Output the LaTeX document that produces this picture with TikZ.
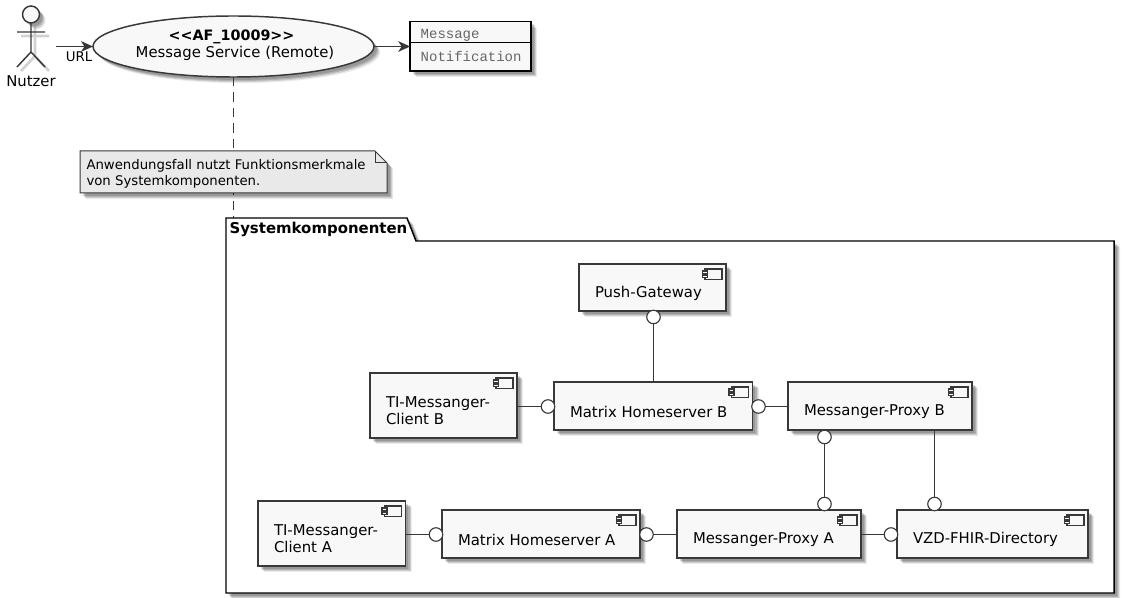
\documentclass[tikz,border=0pt]{standalone}
\usepackage{fontspec}
\setmainfont{DejaVu Sans}
\setmonofont{Liberation Mono}
\usetikzlibrary{shapes.geometric,shadows,arrows.meta,calc}
\definecolor{ln}{HTML}{383838}
\definecolor{bx}{HTML}{F8F8F8}
\definecolor{nt}{HTML}{E9E9E9}
\definecolor{mono}{HTML}{666666}
\newcommand{\pxfs}{\fontsize{11.15pt}{12.9pt}\selectfont}
\tikzset{
  x=0.75pt,y=-0.75pt,
  softshadow/.style={
    general shadow={shadow xshift=2.2pt,shadow yshift=-2.2pt,fill=black,opacity=.14},
    general shadow={shadow xshift=3pt,shadow yshift=-3pt,fill=black,opacity=.14},
    general shadow={shadow xshift=3.8pt,shadow yshift=-3.8pt,fill=black,opacity=.12},
    general shadow={shadow xshift=4.6pt,shadow yshift=-4.6pt,fill=black,opacity=.08}},
  compbox/.style={rectangle,draw=ln,fill=bx,line width=1.1pt,inner sep=0pt,outer sep=0pt,softshadow},
  lbl/.style={inner sep=0pt,outer sep=0pt,font=\pxfs,text=black},
  complbl/.style={lbl,anchor=west,align=left},
  conn/.style={draw=ln,line width=0.85pt},
  sock/.style={circle,draw=ln,fill=white,line width=0.85pt,minimum size=13.5*0.75pt,inner sep=0pt,outer sep=0pt},
  flow/.style={conn,-{Stealth[length=9pt,width=8pt,inset=2.6pt,fill=ln]}},
  icon/.style={draw=ln,fill=bx,line width=0.85pt},
}
\newcommand{\comp}[6]{%
  \node[compbox,minimum width={(#4-#2)*0.75pt},minimum height={(#5-#3)*0.75pt}] (#1) at ({(#2+#4)/2},{(#3+#5)/2}) {};
  \node[complbl] (#1t) at ({#2+16},{(#3+#5)/2+5.5}) {#6};
  \draw[icon] ({#4-21},{#3+5}) rectangle ({#4-4},{#3+15.5});
  \draw[icon] ({#4-23.5},{#3+7}) rectangle ({#4-18.5},{#3+9.5});
  \draw[icon] ({#4-23.5},{#3+11}) rectangle ({#4-18.5},{#3+13.5});
}
\begin{document}
\begin{tikzpicture}
\useasboundingbox (0,0) rectangle (1130,598);
\node[ellipse,draw=ln,fill=bx,line width=1.1pt,inner sep=0pt,outer sep=0pt,minimum width=281*0.75pt,minimum height=61*0.75pt,softshadow] (uc) at (233.5,46.5) {};
\node[lbl,font=\fontsize{10.75pt}{12.9pt}\selectfont\bfseries] (uct1) at (231.5,36.5) {<{}<AF\_10009>{}>};
\node[lbl] (uct2) at (235,53.5) {Message Service (Remote)};
% package
\coordinate (pktop) at (233.5,218);
\draw[conn,line width=0.75pt,dash pattern=on 7pt off 4.6pt] (uc.south -| pktop) -- (pktop);
\draw[draw=black,fill=white,line width=1.1pt,softshadow] (226,241) -- (226,218) -- (407,218) -- (416,241) -- (1114,241) -- (1114,593) -- (226,593) -- cycle;
\node[lbl,font=\fontsize{11.2pt}{13pt}\selectfont\bfseries,anchor=west] (pkl) at (229.5,229) {Systemkomponenten};
% note
\draw[draw=ln,fill=nt,line width=0.75pt,softshadow] (80,151) -- (375,151) -- (387,163) -- (387,193) -- (80,193) -- cycle;
\draw[draw=ln,line width=0.75pt] (375,151) -- (375,163) -- (387,163);
\node[lbl,anchor=west,align=left,font=\fontsize{9.95pt}{12.3pt}\selectfont] (note) at (86.5,174) {Anwendungsfall nutzt Funktionsmerkmale\\von Systemkomponenten.};
% actor
\begin{scope}[shift={(4,4)},draw=black,opacity=.18,line width=2pt]
  \draw (31,23) -- (31,52) (17,32) -- (45,32) (17,67) -- (31,52) -- (45,67);
\end{scope}
\draw[draw=ln,fill=bx,line width=1.1pt,softshadow] (31,14.5) circle (8.5);
\draw[draw=ln,line width=1.1pt] (31,23) -- (31,52) (17,32) -- (45,32) (17,67) -- (31,52) -- (45,67);
\node[lbl] (actor) at (31,81) {Nutzer};
\coordinate (actr) at (56,46.5);
\draw[flow] (actr) -- (uc.west);
\node[lbl,font=\fontsize{10pt}{12pt}\selectfont] (url) at (79,56.5) {URL};
% object
\node[rectangle,draw=black,fill=bx,line width=1.25pt,minimum width=121*0.75pt,minimum height=49.5*0.75pt,inner sep=0pt,outer sep=0pt,softshadow] (obj) at (470.7,46.2) {};
\draw[draw=black,line width=0.85pt] (obj.west |- 0,42.5) -- (obj.east |- 0,42.5);
\node[lbl,anchor=west,font=\fontsize{10.5pt}{12pt}\ttfamily,text=mono] (objm) at (420.7,35) {Message};
\node[lbl,anchor=west,font=\fontsize{10.5pt}{12pt}\ttfamily,text=mono] (objn) at (420.7,56.5) {Notification};
\draw[flow] (uc.east) -- (obj.west |- uc.east);
% components
\comp{pg}{579}{264}{726}{311}{Push-Gateway}
\comp{mb}{554}{382}{752.5}{430}{Matrix Homeserver B}
\comp{pb}{788}{382}{972}{430}{Messanger-Proxy B}
\comp{cb}{370}{373}{517}{438}{TI-Messanger-\\Client B}
\comp{ca}{258}{501}{405.5}{566}{TI-Messanger-\\Client A}
\comp{ma}{442}{510}{640}{558}{Matrix Homeserver A}
\comp{pa}{677}{510}{861}{558}{Messanger-Proxy A}
\comp{vz}{897}{510}{1088}{558}{VZD-FHIR-Directory}
% sockets
\node[sock] (s1) at (653.5,317) {};
\node[sock] (s2) at (548,406.5) {};
\node[sock] (s3) at (758.5,406.5) {};
\node[sock] (s4) at (824.5,437) {};
\node[sock] (s5) at (824.5,504) {};
\node[sock] (s6) at (934.5,504) {};
\node[sock] (s7) at (436,534.5) {};
\node[sock] (s8) at (646.5,534.5) {};
\node[sock] (s9) at (891,534.5) {};
\draw[conn] (s1) -- (s1 |- mb.north);
\draw[conn] (cb.east |- s2) -- (s2);
\draw[conn] (s3) -- (pb.west |- s3);
\draw[conn] (s4) -- (s5);
\draw[conn] (s6 |- pb.south) -- (s6);
\draw[conn] (ca.east |- s7) -- (s7);
\draw[conn] (s8) -- (pa.west |- s8);
\draw[conn] (pa.east |- s9) -- (s9);
\end{tikzpicture}
\end{document}
